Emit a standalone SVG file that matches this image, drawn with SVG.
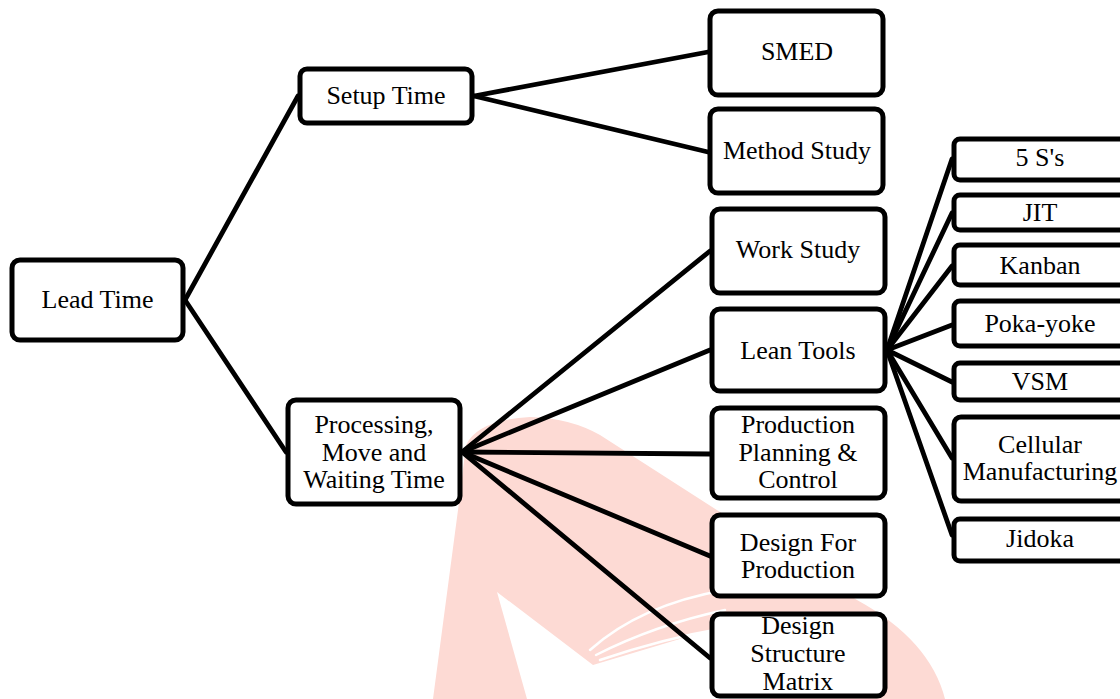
<svg xmlns="http://www.w3.org/2000/svg" width="1120" height="699" viewBox="0 0 1120 699">
<defs>
<style>
.box{fill:#fff;stroke:#000;stroke-width:5;}
.c{stroke:#000;stroke-width:4.8;fill:none;stroke-linecap:round;}
.wm{fill:#fddad4;}
.wmw{fill:#fff;}
.streak{fill:none;stroke:#fff;stroke-width:2.5;stroke-linecap:round;}
</style>
</defs>
<rect width="1120" height="699" fill="#fff"/>
<g id="watermark">
<path class="wm" d="M 433,699 L 458,510 L 466,445 Q 478,420 530,417 Q 570,418 600,435 L 857,600 Q 930,640 945,699 Z"/>
<path class="wmw" d="M 527,699 L 497,592 L 593,665 L 770,612 L 770,699 Z"/>
<path class="streak" d="M 590,650 Q 640,605 725,590"/>
<path class="streak" d="M 596,655 Q 655,625 725,610"/>
<path class="streak" d="M 600,660 Q 665,638 725,628"/>
</g>
<g id="connectors">
<line class="c" x1="185" y1="300" x2="298" y2="96"/>
<line class="c" x1="185" y1="300" x2="286" y2="452"/>
<line class="c" x1="474" y1="96" x2="708" y2="52"/>
<line class="c" x1="474" y1="96" x2="708" y2="152"/>
<line class="c" x1="462" y1="452" x2="710" y2="251"/>
<line class="c" x1="462" y1="452" x2="710" y2="350"/>
<line class="c" x1="462" y1="452" x2="710" y2="454"/>
<line class="c" x1="462" y1="452" x2="710" y2="556"/>
<line class="c" x1="462" y1="452" x2="710" y2="658"/>
<line class="c" x1="887" y1="350" x2="952" y2="159"/>
<line class="c" x1="887" y1="350" x2="952" y2="213"/>
<line class="c" x1="887" y1="350" x2="952" y2="266"/>
<line class="c" x1="887" y1="350" x2="952" y2="325"/>
<line class="c" x1="887" y1="350" x2="952" y2="382"/>
<line class="c" x1="887" y1="350" x2="952" y2="458"/>
<line class="c" x1="887" y1="350" x2="952" y2="535"/>
</g>
<g id="nodes" font-family="Liberation Serif, Times New Roman, Noto Serif, serif" font-size="26" text-anchor="middle" fill="#000">
<g id="lead-time"><rect class="box" x="12" y="260" width="171" height="80" rx="8"/><text x="97.5" y="308">Lead Time</text></g>
<g id="setup-time"><rect class="box" x="300" y="69" width="172" height="54" rx="7"/><text x="386" y="104">Setup Time</text></g>
<g id="processing"><rect class="box" x="288" y="400" width="172" height="104" rx="8"/><text x="374" y="433">Processing,</text><text x="374" y="461">Move and</text><text x="374" y="488">Waiting Time</text></g>
<g id="smed"><rect class="box" x="710" y="11" width="173" height="84" rx="8"/><text x="797" y="60">SMED</text></g>
<g id="method-study"><rect class="box" x="710" y="109" width="173" height="84" rx="8"/><text x="797" y="159">Method Study</text></g>
<g id="work-study"><rect class="box" x="712" y="209" width="173" height="84" rx="8"/><text x="798" y="258">Work Study</text></g>
<g id="lean-tools"><rect class="box" x="712" y="309" width="173" height="82" rx="8"/><text x="798" y="359">Lean Tools</text></g>
<g id="ppc"><rect class="box" x="712" y="408" width="173" height="90" rx="8"/><text x="798" y="433">Production</text><text x="798" y="461">Planning &amp;</text><text x="798" y="488">Control</text></g>
<g id="dfp"><rect class="box" x="712" y="515" width="173" height="81" rx="8"/><text x="798" y="551">Design For</text><text x="798" y="578">Production</text></g>
<g id="dsm"><rect class="box" x="712" y="614" width="173" height="82" rx="8"/><text x="798" y="634">Design</text><text x="798" y="662">Structure</text><text x="798" y="690">Matrix</text></g>
<g id="five-s"><rect class="box" x="954" y="139" width="180" height="41" rx="6"/><text x="1040" y="166">5 S's</text></g>
<g id="jit"><rect class="box" x="954" y="195" width="180" height="35" rx="6"/><text x="1040" y="221">JIT</text></g>
<g id="kanban"><rect class="box" x="954" y="245" width="180" height="40" rx="6"/><text x="1040" y="274">Kanban</text></g>
<g id="poka-yoke"><rect class="box" x="954" y="301" width="180" height="45" rx="6"/><text x="1040" y="332">Poka-yoke</text></g>
<g id="vsm"><rect class="box" x="954" y="363" width="180" height="37" rx="6"/><text x="1040" y="390">VSM</text></g>
<g id="cellular"><rect class="box" x="954" y="417" width="180" height="84" rx="7"/><text x="1040" y="453">Cellular</text><text x="1040" y="480">Manufacturing</text></g>
<g id="jidoka"><rect class="box" x="954" y="519" width="180" height="42" rx="6"/><text x="1040" y="547">Jidoka</text></g>
</g>
</svg>
